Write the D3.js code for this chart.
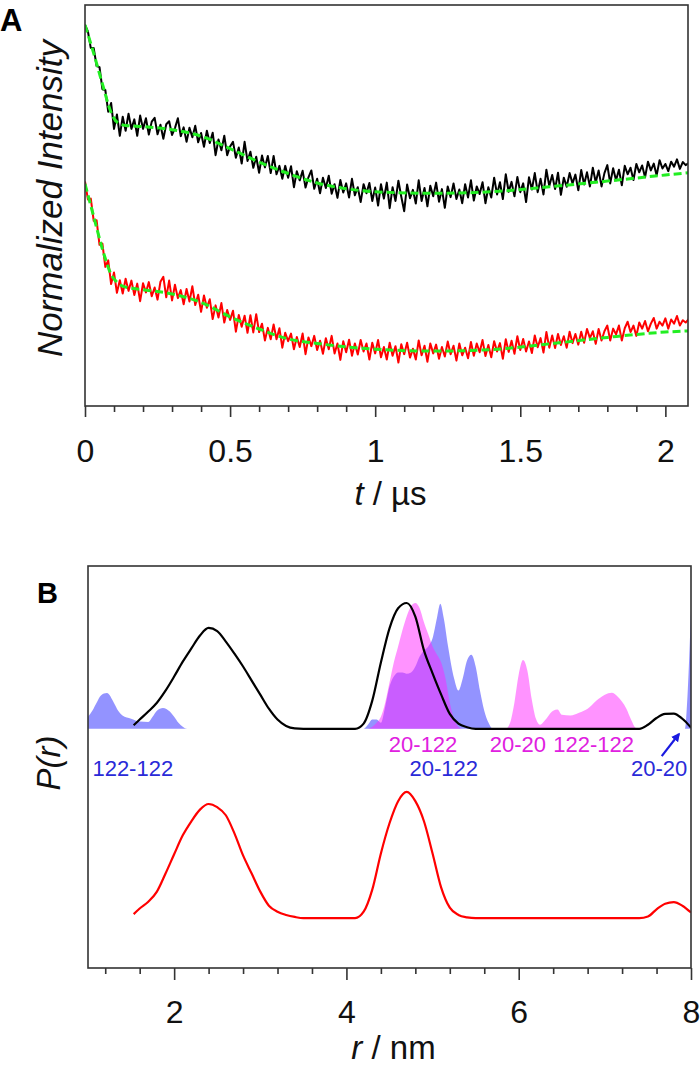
<!DOCTYPE html>
<html><head><meta charset="utf-8">
<script src="https://cdn.jsdelivr.net/npm/d3@7/dist/d3.min.js"></script>
<style>body{margin:0;background:#fff}svg{display:block;font-family:"Liberation Sans",Arial,sans-serif}</style>
</head><body><svg id="c" width="700" height="1068"></svg>
<script>
// ---------- Panel A data (normalized intensity, arbitrary units x1000) ----------
const timeStep = 0.01; // µs sampling of the traces
const blackTrace = [
1000,983,939,939,892,889,831,829,772,795,
727,765,709,759,722,767,727,752,709,762,
727,755,712,746,756,713,738,701,739,747,
711,729,755,708,731,693,730,705,735,692,
716,680,722,690,717,658,699,671,709,658,
681,693,651,678,636,693,643,667,625,654,
612,657,626,656,611,656,608,630,596,630,
599,629,574,616,592,617,573,600,618,570,
596,558,599,572,604,557,582,546,593,560,
584,547,596,553,574,535,582,558,585,538,
573,526,582,544,586,519,574,538,591,549,
511,581,545,567,531,592,538,572,524,578,
550,586,536,569,520,576,548,584,543,568,
532,582,547,592,539,576,556,587,532,574,
547,599,555,587,543,608,562,588,550,601,
561,584,535,600,568,611,561,596,555,620,
577,606,569,612,554,599,575,611,584,607,
566,619,581,613,576,625,587,618,576,611,
632,584,624,592,620,579,630,608,625,593,
635,613,631,600,641,618,636,605,645,623,
635,616,641,628,647,622,640,632,637];
const redTrace = [
589,542,544,486,487,423,426,365,382,320,
350,297,330,295,334,302,329,291,321,275,
322,298,325,288,311,279,326,339,285,329,
277,318,283,304,267,307,274,314,265,292,
247,290,258,280,228,264,232,270,219,252,
226,250,195,239,208,237,192,238,193,241,
194,216,172,205,175,214,175,204,153,192,
170,190,149,181,155,190,136,180,157,184,
147,171,137,178,149,184,138,164,121,170,
141,174,132,164,135,173,143,164,122,166,
138,173,128,155,122,166,132,157,114,162,
136,166,127,150,122,172,133,158,116,164,
138,161,124,155,130,169,136,158,119,164,
133,153,125,168,132,164,141,173,131,160,
128,170,143,165,124,175,142,171,137,183,
147,176,143,169,139,185,154,178,140,194,
153,185,152,189,160,183,153,195,165,189,
161,195,166,202,178,196,163,202,172,196,
211,172,203,188,211,172,204,221,194,211,
184,219,203,223,196,216,231,203,221,211,
230,203,227,216,236,211,225,219,228];
const fitT     = [0,0.03,0.06,0.09,0.11,0.14,0.2,0.3,0.4,0.5,0.6,0.7,0.8,0.9,1.0,1.2,1.4,1.6,1.8,2.0,2.08];
const blackFit = [1000,925,845,770,745,736,733,725,708,675,640,610,585,570,562,558,562,575,590,606,612];
const redFit   = [583,497,412,345,325,312,305,294,272,234,202,176,164,155,149,144,148,163,180,194,197];
const tMajorTicks = [0,0.5,1,1.5,2];
const tMajorLabels = ["0","0.5","1","1.5","2"];
const tMinorTicks = [0.1,0.2,0.3,0.4,0.6,0.7,0.8,0.9,1.1,1.2,1.3,1.4,1.6,1.7,1.8,1.9];

// ---------- Panel B data (P(r), arbitrary units) ----------
const rExp = [1.53,1.6,1.7,1.8,1.9,2.0,2.1,2.2,2.3,2.4,2.5,2.6,2.7,2.8,2.9,3.0,3.1,3.2,3.3,3.4,3.5,4.1,4.2,4.3,4.4,4.5,4.6,4.7,4.8,4.9,5.0,5.1,5.2,5.3,5.4,5.5,7.4,7.5,7.6,7.7,7.8,7.9,8.0];
const pBlack = [0.604,0.618,0.638,0.66,0.69,0.725,0.762,0.795,0.827,0.846,0.838,0.812,0.782,0.75,0.715,0.68,0.645,0.618,0.602,0.596,0.595,0.595,0.608,0.665,0.76,0.845,0.895,0.908,0.874,0.79,0.733,0.68,0.632,0.608,0.599,0.595,0.595,0.605,0.622,0.632,0.633,0.62,0.598];
const pRed = [0.134,0.148,0.165,0.19,0.235,0.283,0.33,0.365,0.394,0.408,0.40,0.38,0.335,0.28,0.235,0.19,0.155,0.14,0.132,0.127,0.124,0.124,0.14,0.195,0.285,0.36,0.415,0.438,0.415,0.365,0.285,0.20,0.15,0.132,0.126,0.124,0.124,0.128,0.146,0.16,0.164,0.155,0.138];
const simBaseline = 0.595;
const rBlue = [1.0,1.05,1.1,1.15,1.22,1.3,1.35,1.4,1.5,1.6,1.7,1.75,1.8,1.87,1.95,2.0,2.05,2.1,2.15,4.2,4.25,4.3,4.35,4.4,4.45,4.5,4.55,4.6,4.65,4.7,4.75,4.8,4.85,4.9,4.95,5.0,5.05,5.09,5.13,5.18,5.25,5.3,5.35,5.4,5.45,5.5,5.55,5.6,5.65,5.7,7.93,7.96,8.0];
const pBlue = [0.625,0.64,0.66,0.678,0.684,0.66,0.64,0.628,0.62,0.613,0.612,0.625,0.64,0.647,0.638,0.625,0.61,0.60,0.595,0.595,0.605,0.618,0.618,0.61,0.65,0.70,0.725,0.735,0.735,0.732,0.735,0.75,0.775,0.79,0.80,0.82,0.87,0.906,0.87,0.80,0.72,0.69,0.72,0.765,0.779,0.75,0.69,0.64,0.61,0.595,0.595,0.68,0.89];
const rPink = [4.25,4.3,4.35,4.4,4.45,4.5,4.55,4.6,4.65,4.7,4.75,4.8,4.85,4.9,4.95,5.0,5.05,5.1,5.15,5.2,5.25,5.3,5.35,5.85,5.9,5.95,6.0,6.05,6.1,6.15,6.2,6.25,6.3,6.4,6.45,6.5,6.6,6.7,6.8,6.9,7.0,7.08,7.15,7.25,7.3,7.36,7.4];
const pPink = [0.595,0.60,0.61,0.625,0.66,0.71,0.76,0.80,0.84,0.875,0.90,0.908,0.895,0.86,0.83,0.80,0.78,0.76,0.72,0.66,0.62,0.60,0.595,0.595,0.61,0.66,0.73,0.766,0.74,0.67,0.62,0.605,0.615,0.64,0.643,0.63,0.628,0.635,0.645,0.665,0.68,0.685,0.675,0.645,0.62,0.597,0.595];
const rMajorTicks = [2,4,6,8];
const rMajorLabels = ["2","4","6","8"];
const rMinorTicks = [1.2,1.6,2.4,2.8,3.2,3.6,4.4,4.8,5.2,5.6,6.4,6.8,7.2,7.6];
const pinkLabels = [{text:"20-122", r:4.89}, {text:"20-20", r:5.99}, {text:"122-122", r:6.87}];
const blueLabels = [{text:"122-122", r:1.52}, {text:"20-122", r:5.13}, {text:"20-20", r:7.63}];
const pinkLabelLevel = 0.537, blueLabelLevel = 0.478;
const arrowFrom = {r:7.66, p:0.527}, arrowTo = {r:7.86, p:0.582};

// ---------- drawing ----------
const svg = d3.select('#c');
const frameColor = '#333';
const defs = svg.append('defs');
defs.append('marker').attr('id','ah').attr('viewBox','0 0 10 10').attr('refX',8).attr('refY',5)
  .attr('markerWidth',4).attr('markerHeight',4).attr('orient','auto')
  .append('path').attr('d','M0,0L10,5L0,10z').attr('fill','#1a1ae0');

function axisStyle(g){
  g.select('.domain').remove();
  g.selectAll('.tick line').attr('stroke',frameColor).attr('stroke-width',1.6);
  g.selectAll('.tick text').attr('font-size',32).attr('fill','#111')
    .attr('font-family','"Liberation Sans",Arial,sans-serif');
}

// Panel A
const A = {l:85, r:688, t:5, b:406};
const xA = d3.scaleLinear().domain([0,2.078]).range([A.l,A.r]);
const yA = d3.scaleLinear().domain([0,1052]).range([A.b,A.t]);
defs.append('clipPath').attr('id','clipA').append('rect').attr('x',A.l).attr('y',A.t).attr('width',A.r-A.l).attr('height',A.b-A.t);
const gA = svg.append('g').attr('clip-path','url(#clipA)');
const traceLine = d3.line().x((d,i)=>xA(i*timeStep)).y(d=>yA(d));
gA.append('path').attr('d',traceLine(blackTrace)).attr('fill','none').attr('stroke','#000').attr('stroke-width',2).attr('stroke-linejoin','round');
gA.append('path').attr('d',traceLine(redTrace)).attr('fill','none').attr('stroke','#f00').attr('stroke-width',2).attr('stroke-linejoin','round');
const fitLine = d3.line().x((d,i)=>xA(fitT[i])).y(d=>yA(d)).curve(d3.curveMonotoneX);
[blackFit, redFit].forEach(f=>{
  gA.append('path').attr('d',fitLine(f)).attr('fill','none').attr('stroke','#22ee22').attr('stroke-width',3).attr('stroke-dasharray','8,4');
});
svg.append('rect').attr('x',A.l).attr('y',A.t).attr('width',A.r-A.l).attr('height',A.b-A.t).attr('fill','none').attr('stroke',frameColor).attr('stroke-width',1.6);
svg.append('g').attr('transform',`translate(0,${A.b})`)
  .call(d3.axisBottom(xA).tickValues(tMinorTicks).tickSize(6).tickFormat(''))
  .call(axisStyle);
svg.append('g').attr('transform',`translate(0,${A.b})`)
  .call(d3.axisBottom(xA).tickValues(tMajorTicks).tickSize(11).tickPadding(22).tickFormat((d,i)=>tMajorLabels[i]))
  .call(axisStyle);
svg.append('text').attr('transform',`translate(62,${(A.t+A.b)/2-7}) rotate(-90)`).attr('text-anchor','middle')
  .attr('font-size',35).attr('font-style','italic').attr('fill','#111').text('Normalized Intensity');
const xtA = svg.append('text').attr('x',(A.l+A.r)/2+4).attr('y',505).attr('text-anchor','middle').attr('font-size',33).attr('fill','#111');
xtA.append('tspan').attr('font-style','italic').text('t');
xtA.append('tspan').text(' / µs');
svg.append('text').attr('x',0).attr('y',31).attr('font-size',31).attr('font-weight','bold').attr('fill','#000').text('A');

// Panel B
const B = {l:88, r:691, t:566, b:968};
const xB = d3.scaleLinear().domain([1,8]).range([B.l,B.r]);
const yB = d3.scaleLinear().domain([0,1]).range([B.b,B.t]);
defs.append('clipPath').attr('id','clipB').append('rect').attr('x',B.l).attr('y',B.t).attr('width',B.r-B.l).attr('height',B.b-B.t);
const gB = svg.append('g').attr('clip-path','url(#clipB)');
const area = (rs)=>d3.area().x((d,i)=>xB(rs[i])).y0(yB(simBaseline)).y1(d=>yB(d)).curve(d3.curveMonotoneX);
gB.append('path').attr('d',area(rBlue)(pBlue)).attr('fill','rgb(40,40,255)').attr('fill-opacity',0.5);
gB.append('path').attr('d',area(rPink)(pPink)).attr('fill','rgb(255,40,255)').attr('fill-opacity',0.5);
const lineB = d3.line().x((d,i)=>xB(rExp[i])).y(d=>yB(d)).curve(d3.curveMonotoneX);
gB.append('path').attr('d',lineB(pBlack)).attr('fill','none').attr('stroke','#000').attr('stroke-width',2.2);
gB.append('path').attr('d',lineB(pRed)).attr('fill','none').attr('stroke','#f00').attr('stroke-width',2.2);
svg.append('rect').attr('x',B.l).attr('y',B.t).attr('width',B.r-B.l).attr('height',B.b-B.t).attr('fill','none').attr('stroke',frameColor).attr('stroke-width',1.6);
svg.append('g').attr('transform',`translate(0,${B.b})`)
  .call(d3.axisBottom(xB).tickValues(rMinorTicks).tickSize(6).tickFormat(''))
  .call(axisStyle);
svg.append('g').attr('transform',`translate(0,${B.b})`)
  .call(d3.axisBottom(xB).tickValues(rMajorTicks).tickSize(12).tickPadding(20).tickFormat((d,i)=>rMajorLabels[i]))
  .call(axisStyle);
pinkLabels.forEach(l=>svg.append('text').attr('x',xB(l.r)).attr('y',yB(pinkLabelLevel)).attr('text-anchor','middle')
  .attr('font-size',22).attr('fill','#e020e0').text(l.text));
blueLabels.forEach(l=>svg.append('text').attr('x',xB(l.r)).attr('y',yB(blueLabelLevel)).attr('text-anchor','middle')
  .attr('font-size',22).attr('fill','#2a2ad8').text(l.text));
svg.append('line').attr('x1',xB(arrowFrom.r)).attr('y1',yB(arrowFrom.p)).attr('x2',xB(arrowTo.r)).attr('y2',yB(arrowTo.p))
  .attr('stroke','#1a1ae0').attr('stroke-width',2.2).attr('marker-end','url(#ah)');
svg.append('text').attr('transform',`translate(60,${(B.t+B.b)/2-4}) rotate(-90)`).attr('text-anchor','middle')
  .attr('font-size',33).attr('font-style','italic').attr('fill','#111').text('P(r)');
const xtB = svg.append('text').attr('x',(B.l+B.r)/2+4).attr('y',1059).attr('text-anchor','middle').attr('font-size',33).attr('fill','#111');
xtB.append('tspan').attr('font-style','italic').text('r');
xtB.append('tspan').text(' / nm');
svg.append('text').attr('x',37).attr('y',603).attr('font-size',29).attr('font-weight','bold').attr('fill','#000').text('B');
</script></body></html>
